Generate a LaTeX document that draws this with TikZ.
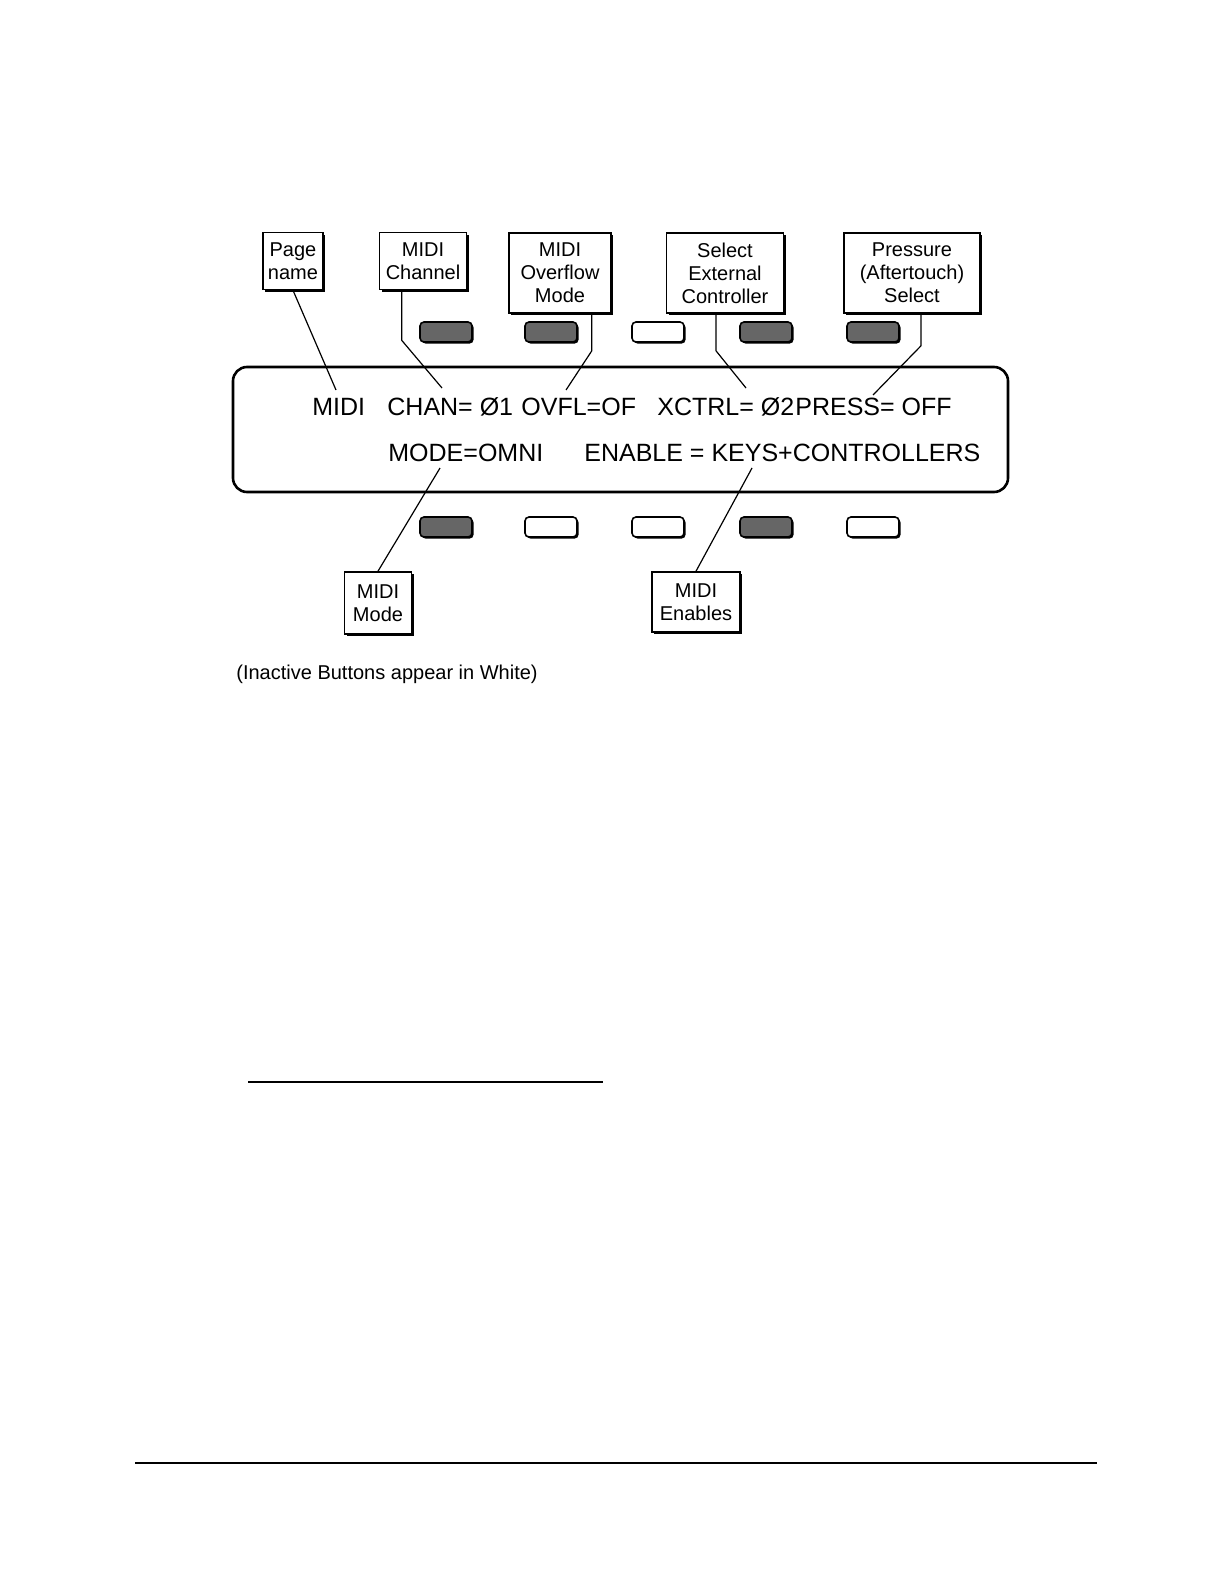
\documentclass[tikz,border=0pt]{standalone}
\usepackage{fontspec}
\setmainfont{Liberation Sans}
\usetikzlibrary{shadows}

\tikzset{
  lbl/.style={draw, thick, fill=white, align=center, inner sep=1pt,
    font=\fontsize{10}{11.5}\selectfont,
    drop shadow={shadow xshift=1.2pt, shadow yshift=-1.2pt, fill=black, opacity=1}},
  btndark/.style={draw, thick, fill=black!60, rounded corners=2pt,
    minimum width=26pt, minimum height=10pt, inner sep=0pt,
    drop shadow={shadow xshift=0.8pt, shadow yshift=-0.8pt, fill=black, opacity=1}},
  btnwhite/.style={btndark, fill=white},
  lcd/.style={font=\fontsize{12.5}{14}\selectfont, anchor=west, inner sep=0pt},
  lead/.style={line width=0.6pt}
}

\begin{document}
\begin{tikzpicture}[x=0.5pt, y=-0.5pt]
    \useasboundingbox (0,0) rectangle (1224,1584);

    % display window
    \draw[line width=1.3pt, rounded corners=7pt] (233,367) rectangle (1008,492);
    \node[lcd] (tmidi)  at (312,407) {MIDI};
    \node[lcd] (tchan)  at (387,407) {CHAN= Ø1};
    \node[lcd] (tovfl)  at (521,407) {OVFL=OF};
    \node[lcd] (txctrl) at (657,407) {XCTRL= Ø2};
    \node[lcd] (tpress) at (795,407) {PRESS= OFF};
    \node[lcd] (tmode)  at (388,453) {MODE=OMNI};
    \node[lcd] (tenab)  at (584,453) {ENABLE = KEYS+CONTROLLERS};

    % soft buttons
    \node[btndark]  (b1) at (446,332) {};
    \node[btndark]  (b2) at (551,332) {};
    \node[btnwhite] (b3) at (658,332) {};
    \node[btndark]  (b4) at (766,332) {};
    \node[btndark]  (b5) at (873,332) {};
    \node[btndark]  (c1) at (446,527) {};
    \node[btnwhite] (c2) at (551,527) {};
    \node[btnwhite] (c3) at (658,527) {};
    \node[btndark]  (c4) at (766,527) {};
    \node[btnwhite] (c5) at (873,527) {};

    % labels
    \node[lbl, minimum width=30pt, minimum height=28.5pt] (lpage) at (293,261) {Page\\name};
    \node[lbl, minimum width=43.5pt, minimum height=28.5pt] (lchan) at (423,261) {MIDI\\Channel};
    \node[lbl, minimum width=51pt, minimum height=40pt] (lovfl) at (560,273) {MIDI\\Overflow\\Mode};
    \node[lbl, minimum width=58.5pt, minimum height=40pt] (lxctrl) at (725,273) {Select\\External\\Controller};
    \node[lbl, minimum width=68pt, minimum height=40pt] (lpress) at (912,273) {Pressure\\(Aftertouch)\\Select};
    \node[lbl, minimum width=33.5pt, minimum height=31pt] (lmode) at (378,603) {MIDI\\Mode};
    \node[lbl, minimum width=44pt, minimum height=30pt] (lenab) at (696,602) {MIDI\\Enables};

    % leader lines
    \coordinate (p1) at (336,390);
    \coordinate (p2) at (442,388);
    \coordinate (p3) at (566,390);
    \coordinate (p4) at (746,388);
    \coordinate (p5) at (873,395);
    \coordinate (p6) at (440,468);
    \coordinate (p7) at (752,468);
    \draw[lead] (lpage.south) -- (p1);
    \draw[lead] (lchan.south west) ++(23,0) -- ++(0,50) -- (p2);
    \draw[lead] (lovfl.south east) ++(-20,0) -- ++(0,37) -- (p3);
    \draw[lead] (lxctrl.south) ++(-9,0) -- ++(0,37) -- (p4);
    \draw[lead] (lpress.south) ++(9,0) -- ++(0,32) -- (p5);
    \draw[lead] (p6) -- (lmode.north);
    \draw[lead] (p7) -- (lenab.north);

    % caption and rules
    \node[anchor=west, inner sep=0pt, font=\fontsize{10}{12}\selectfont] (cap) at (236,674) {(Inactive Buttons appear in White)};
    \draw[line width=0.6pt] (248,1082) -- (603,1082);
    \draw[line width=0.8pt] (135,1463) -- (1097,1463);
\end{tikzpicture}
\end{document}
